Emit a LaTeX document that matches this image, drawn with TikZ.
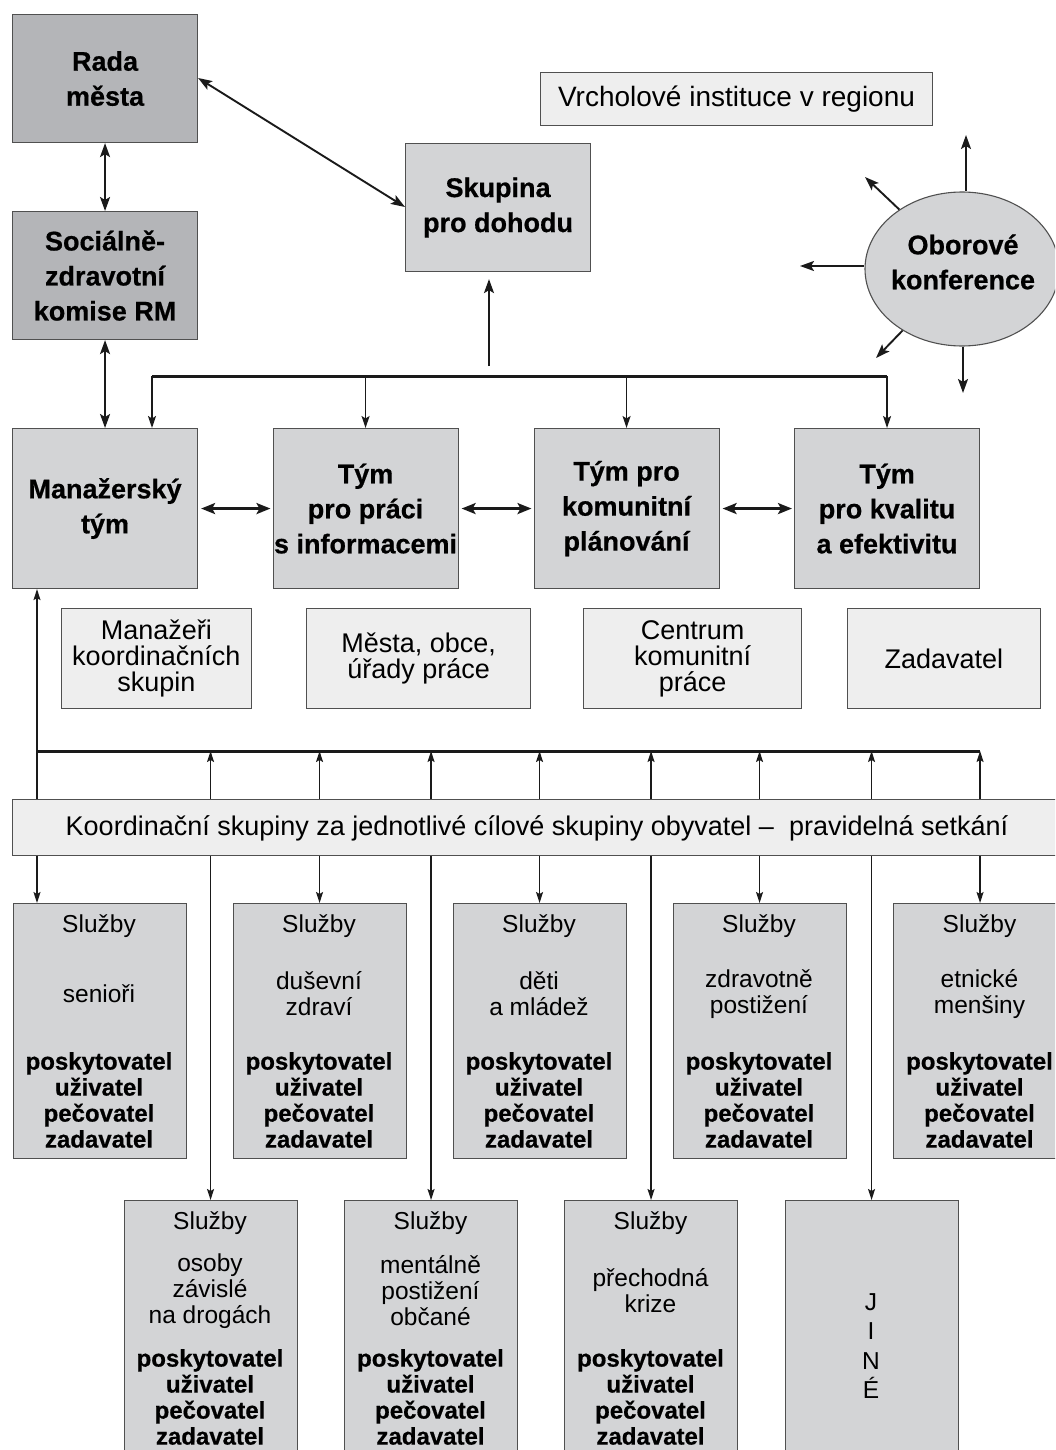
\documentclass[tikz,border=0pt]{standalone}
\usepackage{fontspec}
\setmainfont{Liberation Sans}[BoldFeatures={FakeBold=0.6}]
\usetikzlibrary{arrows.meta,shapes.geometric}
\definecolor{dgray}{HTML}{B4B5B8}
\definecolor{mgray}{HTML}{D3D4D6}
\definecolor{lgray}{HTML}{EEEEEE}
\definecolor{edgec}{HTML}{505050}
\definecolor{linec}{HTML}{1A1A1A}
\newcommand\servis[5]{%
  \node[box, fill=mgray, minimum width=173pt, minimum height=#4] (#1) at (#2-86.5,#3) {};
  \node[svcr] (#1a) at (#2,#3+23) {Služby};
  \node[svcr] (#1b) at (#2,#3+91) {#5};
  \node[svcb] (#1c) at (#2,#3+197) {poskytovatel\\uživatel\\pečovatel\\zadavatel};
}
\begin{document}
\begin{tikzpicture}[x=1pt,y=-1pt,
  box/.style={draw=edgec, line width=1.1pt, anchor=north west, inner sep=0pt, align=center},
  titlef/.style={font=\fontsize{27}{35}\selectfont\bfseries, align=center, inner sep=0pt},
  regf/.style={font=\fontsize{27}{26}\selectfont, align=center, inner sep=0pt},
  svcr/.style={font=\fontsize{24.5}{26}\selectfont, align=center, inner sep=0pt},
  svcb/.style={font=\fontsize{24}{26}\selectfont\bfseries, align=center, inner sep=0pt},
  arr/.style={draw=linec, line width=1.9pt, -{Stealth[length=14pt,width=10pt,inset=3pt]}},
  dbl/.style={draw=linec, line width=1.9pt, {Stealth[length=14pt,width=10pt,inset=3pt]}-{Stealth[length=14pt,width=10pt,inset=3pt]}},
  dblh/.style={draw=linec, line width=2.4pt, {Stealth[length=14pt,width=11pt,inset=3pt]}-{Stealth[length=14pt,width=11pt,inset=3pt]}},
  arrm/.style={draw=linec, line width=1.6pt, -{Stealth[length=12pt,width=8pt,inset=2.5pt]}},
  arrt/.style={draw=linec, line width=1.3pt, -{Stealth[length=11pt,width=7pt,inset=2pt]}},
  bus/.style={draw=linec, line width=3pt}]
\useasboundingbox (0,0) rectangle (1055,1450);
\clip (0,0) rectangle (1055,1450);

% top part
\node[box, titlef, fill=dgray, minimum width=185pt, minimum height=128pt] (rada) at (12,14) {Rada\\města};
\node[box, titlef, fill=dgray, minimum width=185pt, minimum height=128pt] (soc) at (12,211) {Sociálně-\\zdravotní\\komise RM};
\node[box, titlef, fill=mgray, minimum width=185pt, minimum height=128pt] (skup) at (405,143) {Skupina\\pro dohodu};
\node[box, font=\fontsize{28}{30}\selectfont, fill=lgray, minimum width=392pt, minimum height=53pt] (vrch) at (540,72) {Vrcholové instituce v regionu};

\node[ellipse, draw=edgec, line width=1.1pt, fill=mgray, minimum width=194pt, minimum height=154pt, inner sep=0pt] (obor) at (962,269) {};
\node[titlef] (obortxt) at (963,262) {Oborové\\konference};

\coordinate (tu) at (966,135);
\coordinate (tul) at (865,177);
\coordinate (tl) at (800,266);
\coordinate (tdl) at (876,358);
\coordinate (td) at (963,393);
\draw[arr] (obor.north -| tu) -- (tu);
\draw[arr] (obor) -- (tul);
\draw[arr] (obor.west |- tl) -- (tl);
\draw[arr] (obor) -- (tdl);
\draw[arr] (obor.south -| td) -- (td);

% team row
\node[box, titlef, fill=mgray, minimum width=185pt, minimum height=160pt] (man) at (12,428) {Manažerský\\tým};
\node[box, titlef, fill=mgray, minimum width=185pt, minimum height=160pt] (info) at (272.5,428) {Tým\\pro práci\\s informacemi};
\node[box, titlef, fill=mgray, minimum width=185pt, minimum height=160pt] (kom) at (533.5,428) {Tým pro\\komunitní\\plánování};
\node[box, titlef, fill=mgray, minimum width=185pt, minimum height=160pt] (kval) at (794,428) {Tým\\pro kvalitu\\a efektivitu};

\draw[dbl] (rada.south -| soc.north) -- (soc.north);
\draw[dbl] (soc.south) -- (soc.south |- man.north);
\draw[dbl] (rada.east |- 0,78) -- (skup.west |- 0,207);
\draw[dblh, shorten <=3pt, shorten >=2pt] (man.east) -- (info.west);
\draw[dblh, shorten <=3pt, shorten >=2pt] (info.east) -- (kom.west);
\draw[dblh, shorten <=3pt, shorten >=2pt] (kom.east) -- (kval.west);

\coordinate (b1) at (152,376);
\coordinate (upc) at (489,366);
\draw[bus] (b1) -- (kval.north |- b1);
\draw[arrm] (b1) -- (b1 |- man.north);
\draw[arrm] (info.north |- b1) -- (info.north);
\draw[arrm] (kom.north |- b1) -- (kom.north);
\draw[arrm] (kval.north |- b1) -- (kval.north);
\draw[arr, shorten >=7pt] (upc) -- (skup.south -| upc);

% second row
\node[box, regf, fill=lgray, minimum width=190.5pt, minimum height=100pt] (mgr) at (60.5,608) {Manažeři\\koordinačních\\skupin};
\node[box, regf, fill=lgray, minimum width=224pt, minimum height=100pt] (mesta) at (306,608) {Města, obce,\\úřady práce};
\node[box, regf, fill=lgray, minimum width=218pt, minimum height=100pt] (centr) at (583,608) {Centrum\\komunitní\\práce};
\node[box, regf, fill=lgray, minimum width=193.5pt, minimum height=100pt] (zad) at (846.5,608) {Zadavatel};

% bar
\node[box, fill=lgray, minimum width=1060pt, minimum height=56pt] (bar) at (12,799) {};
\node[regf] (bartxt) at (537,828) {Koordinační skupiny za jednotlivé cílové skupiny obyvatel –\ \ pravidelná setkání};

% service boxes row 3
\servis{s1}{99}{903}{255pt}{senioři}
\servis{s2}{319}{903}{255pt}{duševní\\zdraví}
\servis{s3}{539}{903}{255pt}{děti\\a mládež}
\servis{s4}{759}{903}{255pt}{zdravotně\\postižení}
\servis{s5}{979.5}{903}{255pt}{etnické\\menšiny}
% row 4
\servis{t1}{210}{1200}{270pt}{osoby\\závislé\\na drogách}
\servis{t2}{430.5}{1200}{270pt}{mentálně\\postižení\\občané}
\servis{t3}{650.5}{1200}{270pt}{přechodná\\krize}
\node[box, fill=mgray, minimum width=173pt, minimum height=270pt] (t4) at (784.5,1200) {};
\node[svcr, font=\fontsize{24.5}{29.5}\selectfont] (t4a) at (871,1346) {J\\I\\N\\É};

% lower bus
\coordinate (busL) at (37,751);
\coordinate (busR) at (978,751);
\draw[bus] (busL) -- (busR -| s5.north);
\draw[arrt] (bar.north -| busL) -- (man.south -| busL);
\foreach \b in {t1,s2,t2,s3,t3,s4,t4,s5}{
  \draw[arrt] (bar.north -| \b.north) -- (busL -| \b.north);
  \draw[arrt] (bar.south -| \b.north) -- (\b.north);
}
\draw[arrt] (bar.south -| busL) -- (s1.north -| busL);
\end{tikzpicture}
\end{document}
